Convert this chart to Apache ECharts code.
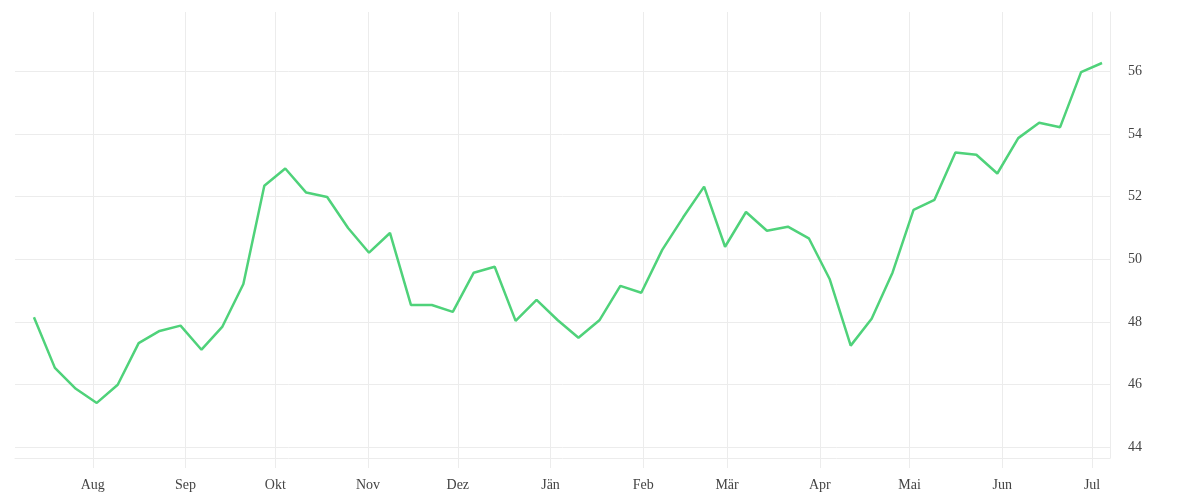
<!DOCTYPE html>
<html>
<head>
<meta charset="utf-8">
<script src="https://cdn.jsdelivr.net/npm/echarts@6/dist/echarts.min.js"></script>
<style>
html,body{margin:0;padding:0;background:#fff;}
#chart{width:1200px;height:500px;}
</style>
</head>
<body>
<div id="chart"></div>
<script>
// Weekly series, first week starting 2022-07-12
const startDate = '2022-07-12';
const values = [
  48.15, 46.53, 45.86, 45.41, 45.99, 47.32, 47.71, 47.88, 47.11, 47.85,
  49.21, 52.35, 52.90, 52.13, 51.99, 51.00, 50.21, 50.84, 48.54, 48.54,
  48.32, 49.57, 49.76, 48.03, 48.70, 48.06, 47.49, 48.05, 49.15, 48.93,
  50.30, 51.34, 52.32, 50.40, 51.51, 50.91, 51.04, 50.67, 49.36, 47.24,
  48.10, 49.58, 51.58, 51.90, 53.41, 53.34, 52.74, 53.87, 54.36, 54.22,
  55.98, 56.27
];
const monthLabels = ['Jän','Feb','Mär','Apr','Mai','Jun','Jul','Aug','Sep','Okt','Nov','Dez'];
const xMin = '2022-07-06';
const xMax = '2023-07-07';

const DAY = 86400000;
const t0 = Date.parse(startDate + 'T08:00:00Z');
const seriesData = values.map((v, i) => [t0 + i * 7 * DAY, v]);

const gridColor = '#ececec';
const labelStyle = { color: '#444', fontFamily: '"Liberation Serif", serif', fontSize: 14 };

const chart = echarts.init(document.getElementById('chart'));
chart.setOption({
  useUTC: true,
  animation: false,
  backgroundColor: '#fff',
  grid: { left: 15, right: 90, top: 12, bottom: 42, containLabel: false, outerBoundsMode: 'none' },
  xAxis: {
    type: 'time',
    min: Date.parse(xMin + 'T00:00:00Z'),
    max: Date.parse(xMax + 'T00:00:00Z'),
    splitNumber: 12,
    axisLine: { show: true, lineStyle: { color: gridColor, width: 1 } },
    axisTick: { show: true, length: 10, lineStyle: { color: gridColor, width: 1 } },
    splitLine: { show: true, showMinLine: false, lineStyle: { color: gridColor, width: 1 } },
    axisLabel: Object.assign({
      margin: 20,
      hideOverlap: false,
      formatter: function (val) {
        const d = new Date(val);
        if (d.getUTCDate() !== 1) return '';
        return monthLabels[d.getUTCMonth()];
      }
    }, labelStyle)
  },
  yAxis: {
    type: 'value',
    position: 'right',
    min: 43.65,
    max: 57.9,
    splitNumber: 7,
    axisLine: { show: true, lineStyle: { color: gridColor, width: 1 } },
    axisTick: { show: false },
    splitLine: { show: true, showMinLine: false, showMaxLine: false, lineStyle: { color: gridColor, width: 1 } },
    axisLabel: Object.assign({
      margin: 18,
      padding: [4, 0, 0, 0],
      showMinLabel: false,
      showMaxLabel: false,
      formatter: function (v) { return Math.abs(v % 2) < 1e-6 ? String(v) : ''; }
    }, labelStyle)
  },
  series: [{
    type: 'line',
    data: seriesData,
    showSymbol: false,
    symbol: 'none',
    lineStyle: { color: '#4fd27a', width: 2.5 },
    itemStyle: { color: '#4fd27a' },
    emphasis: { disabled: true }
  }]
});
</script>
</body>
</html>
